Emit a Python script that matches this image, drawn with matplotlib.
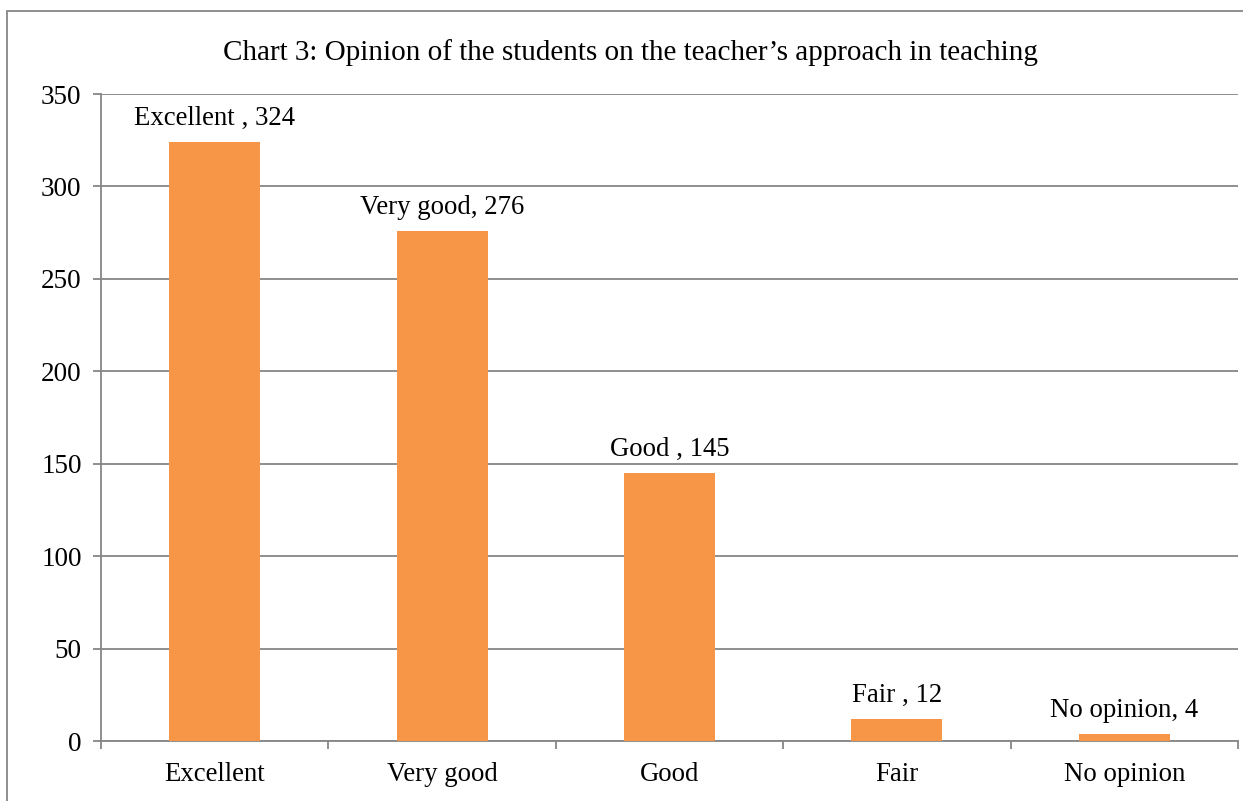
import matplotlib
matplotlib.use("Agg")
import matplotlib.pyplot as plt
from matplotlib.patches import Rectangle
import numpy as np

categories = ["Excellent", "Very good", "Good", "Fair", "No opinion"]
values = [324, 276, 145, 12, 4]
label_names = ["Excellent ", "Very good", "Good ", "Fair ", "No opinion"]

plt.rcParams['font.family'] = ['Liberation Serif', 'DejaVu Serif']

fig = plt.figure(figsize=(12.43, 8.01), dpi=100)
ax = fig.add_axes([0.0813, 0.0749, 0.996 - 0.0813, 0.8826 - 0.0749])

grid_col = '#868686'
x = np.arange(len(categories))
ax.bar(x, values, width=0.4, color='#F79646', zorder=3)

for xi, v, name in zip(x, values, label_names):
    ax.annotate(f"{name}, {v}", (xi, v), xytext=(0, 8), textcoords='offset points',
                ha='center', va='bottom', fontsize=19.3)

ax.set_xlim(-0.5, len(categories) - 0.5)
ax.set_ylim(0, 350)
ax.set_yticks(range(0, 351, 50))
ax.yaxis.grid(True, color=grid_col, linewidth=1.3, zorder=0)
ax.set_axisbelow(True)

ax.set_xticks(x)
ax.set_xticklabels(categories, fontsize=19.3)
ax.set_xticks(np.arange(-0.5, len(categories), 1), minor=True)
ax.tick_params(axis='x', which='major', length=0, pad=15)
ax.tick_params(axis='x', which='minor', length=6, color=grid_col, width=1.3)
ax.tick_params(axis='y', length=6, color=grid_col, width=1.3, labelsize=19.5, pad=8)

for s in ['top', 'right']:
    ax.spines[s].set_visible(False)
for s in ['left', 'bottom']:
    ax.spines[s].set_color(grid_col)
    ax.spines[s].set_linewidth(1.3)

fig.text(0.507, 0.934, "Chart 3: Opinion of the students on the teacher\u2019s approach in teaching",
         ha='center', va='center', fontsize=21)

fig.patches.append(Rectangle((7 / 1243, -0.02), 1.05, 0.9863 + 0.02, transform=fig.transFigure,
                             fill=False, edgecolor=grid_col, linewidth=1.3))

fig.savefig("out.png", dpi=100)
